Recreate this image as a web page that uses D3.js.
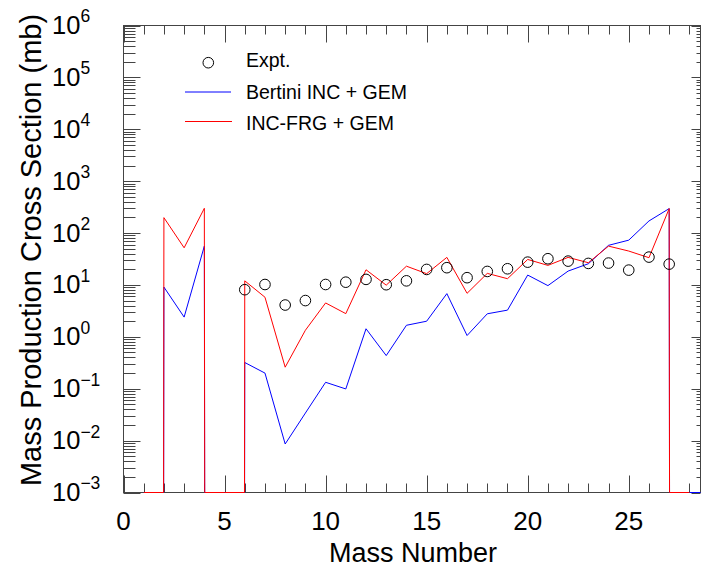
<!DOCTYPE html>
<html><head><meta charset="utf-8">
<script src="https://cdn.jsdelivr.net/npm/d3@7/dist/d3.min.js"></script>
<style>
body{margin:0;background:#fff}
svg{display:block}
text{font-family:"Liberation Sans",Arial,Helvetica,sans-serif;fill:#000}
</style>
</head><body>
<svg id="chart" width="702" height="572"></svg>
<script>
// ---------- data ----------
const exptMass   = [6,7,8,9,10,11,12,13,14,15,16,17,18,19,20,21,22,23,24,25,26,27];
const exptValues = [8.1,10.2,4.1,5.0,10.2,11.3,12.8,10.1,12.0,19.9,21.5,13.8,18.2,20.5,27.5,32,28.8,26,26.4,19.3,34.4,25.2];

const bertiniMass   = [1,2,3,4,5,6,7,8,9,10,11,12,13,14,15,16,17,18,19,20,21,22,23,24,25,26,27,28,29];
const bertiniValues = [0,9.1,2.4,56,0,0.32,0.20,0.0086,0.034,0.133,0.099,1.43,0.435,1.67,2.0,6.8,1.06,2.78,3.27,15.5,9.7,18.5,25.6,58,73,171,296,0,0];

const incfrgMass   = [1,2,3,4,5,6,7,8,9,10,11,12,13,14,15,16,17,18,19,20,21,22,23,24,25,26,27,28];
const incfrgValues = [0,198,52,300,0,12.0,5.8,0.26,1.34,4.5,2.8,19.6,9.9,23,16.5,34,6.9,16.7,13.2,31,23.8,34,26.8,56,45,33.5,296,0];

const xTickLabels    = [0,5,10,15,20,25];
const yTickExponents = [-3,-2,-1,0,1,2,3,4,5,6];
const legendLabels   = ["Expt.","Bertini INC + GEM","INC-FRG + GEM"];
const xTitle = "Mass Number";
const yTitle = "Mass Production Cross Section (mb)";

// ---------- layout ----------
const L = 123.5, R = 700.5, T = 25.5, B = 492.5;
const svg = d3.select("#chart");
const x = d3.scaleLinear().domain([0, 28.55]).range([L, R]);
const y = d3.scaleLog().domain([1e-3, 1e6]).range([B, T]);
const floorY = y(1e-3);
const tiny = 1e-300; // zero cross section -> far below the floor

svg.append("defs").append("clipPath").attr("id","plot")
  .append("rect").attr("x",L).attr("y",T-1).attr("width",R-L).attr("height",B-T+2);

// curve that lets segments running below the floor ride along it
function floorClamp(fy){
  return function(context){
    let px, py, n;
    return {
      areaStart(){}, areaEnd(){},
      lineStart(){ n = 0; },
      lineEnd(){},
      point(xx, yy){
        xx = +xx; yy = +yy;
        if (n === 0) context.moveTo(xx, Math.min(yy, fy));
        else {
          if ((py > fy) !== (yy > fy)) {
            const t = (fy - py) / (yy - py);
            context.lineTo(px + t * (xx - px), fy);
          }
          context.lineTo(xx, Math.min(yy, fy));
        }
        px = xx; py = yy; n++;
      }
    };
  };
}

const line = d3.line()
  .x(d => x(d[0]))
  .y(d => y(d[1] > 0 ? d[1] : tiny))
  .curve(floorClamp(floorY));

const axisColor = "#444";
const g = svg.append("g");

g.append("rect").attr("x",L).attr("y",T).attr("width",R-L).attr("height",B-T)
  .attr("fill","none").attr("stroke",axisColor).attr("stroke-width",1);

// x ticks (bottom & top)
x.ticks(28).forEach(v => {
  const major = v % 5 === 0;
  const px = Math.round(x(v)) + 0.5;
  g.append("line").attr("x1",px).attr("x2",px).attr("y1",B).attr("y2",B-(major?17:9))
    .attr("stroke",axisColor);
  g.append("line").attr("x1",px).attr("x2",px).attr("y1",T).attr("y2",T+(major?17:9))
    .attr("stroke",axisColor);
});
// y ticks (left & right)
y.ticks().forEach(v => {
  const e = Math.log10(v);
  const major = Math.abs(e - Math.round(e)) < 1e-9;
  const py = Math.round(y(v)) + 0.5;
  g.append("line").attr("x1",L).attr("x2",L+(major?17:12)).attr("y1",py).attr("y2",py)
    .attr("stroke",axisColor);
  g.append("line").attr("x1",R).attr("x2",R-(major?9:4)).attr("y1",py).attr("y2",py)
    .attr("stroke",axisColor);
});

// x tick labels
g.selectAll(".xl").data(xTickLabels).enter().append("text")
  .attr("x", d => x(d)).attr("y", 530)
  .attr("text-anchor","middle").attr("font-size",26).text(d => d);

// y tick labels
yTickExponents.forEach(e => {
  const t = g.append("text").attr("x",52).attr("y", y(Math.pow(10,e)) + 8.5)
    .attr("font-size",25.5);
  t.append("tspan").text("10");
  t.append("tspan").attr("font-size",17.5).attr("dy",-11.6)
    .text(e < 0 ? "\u2212" + Math.abs(e) : String(e));
});

// axis titles
g.append("text").attr("x",413).attr("y",561.5).attr("text-anchor","middle")
  .attr("font-size",27).text(xTitle);
g.append("text").attr("transform","translate(41,250) rotate(-90)")
  .attr("text-anchor","middle").attr("font-size",29).text(yTitle);

// series
const plot = svg.append("g").attr("clip-path","url(#plot)");
plot.append("path").datum(d3.zip(bertiniMass, bertiniValues))
  .attr("d", line).attr("fill","none").attr("stroke","#0000ff").attr("stroke-width",1);
plot.append("path").datum(d3.zip(incfrgMass, incfrgValues))
  .attr("d", line).attr("fill","none").attr("stroke","#ff0000").attr("stroke-width",1);
plot.selectAll("circle.ex").data(d3.zip(exptMass, exptValues)).enter().append("circle")
  .attr("cx", d => x(d[0])).attr("cy", d => y(d[1])).attr("r",5.3)
  .attr("fill","none").attr("stroke","#000").attr("stroke-width",1);

// legend
const lg = svg.append("g");
lg.append("circle").attr("cx",208.3).attr("cy",62.7).attr("r",5.3)
  .attr("fill","none").attr("stroke","#000");
lg.append("line").attr("x1",185).attr("x2",231).attr("y1",92).attr("y2",92)
  .attr("stroke","#0000ff");
lg.append("line").attr("x1",185).attr("x2",232).attr("y1",121.5).attr("y2",121.5)
  .attr("stroke","#ff0000");
const ly = [67.3, 99, 130];
legendLabels.forEach((s,i) => {
  lg.append("text").attr("x",246).attr("y",ly[i]).attr("font-size",19.5).text(s);
});
</script>
</body></html>
